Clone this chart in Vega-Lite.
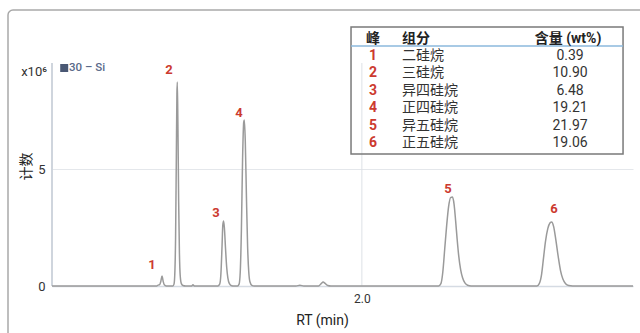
{
  "$schema": "https://vega.github.io/schema/vega-lite/v6.json",
  "width": 581,
  "height": 266,
  "autosize": "none",
  "padding": {"left": 52, "top": 20, "right": 7, "bottom": 47},
  "background": "white",
  "config": {
    "view": {"stroke": null},
    "font": "Roboto, Noto Sans CJK SC",
    "text": {"font": "Roboto, Noto Sans CJK SC"}
  },
  "data": {"values": [{}]},
  "datasets": {
    "trace": [
      {"rt": 1.2, "signal": 0}, {"rt": 1.4, "signal": 0}, {"rt": 1.47, "signal": 0},
      {"rt": 1.474, "signal": 0.04}, {"rt": 1.478, "signal": 0.06}, {"rt": 1.481, "signal": 0.2},
      {"rt": 1.484, "signal": 0.43}, {"rt": 1.487, "signal": 0.2}, {"rt": 1.49, "signal": 0.05},
      {"rt": 1.495, "signal": 0}, {"rt": 1.512, "signal": 0}, {"rt": 1.515, "signal": 0.08},
      {"rt": 1.517, "signal": 0.5}, {"rt": 1.519, "signal": 2.0}, {"rt": 1.521, "signal": 5.5},
      {"rt": 1.5225, "signal": 8.2}, {"rt": 1.5235, "signal": 8.72}, {"rt": 1.525, "signal": 7.0},
      {"rt": 1.527, "signal": 3.6}, {"rt": 1.529, "signal": 1.4}, {"rt": 1.531, "signal": 0.45},
      {"rt": 1.534, "signal": 0.1}, {"rt": 1.538, "signal": 0.02}, {"rt": 1.545, "signal": 0},
      {"rt": 1.56, "signal": 0}, {"rt": 1.564, "signal": 0.05}, {"rt": 1.568, "signal": 0},
      {"rt": 1.628, "signal": 0}, {"rt": 1.633, "signal": 0.08}, {"rt": 1.636, "signal": 0.5},
      {"rt": 1.639, "signal": 1.7}, {"rt": 1.641, "signal": 2.6}, {"rt": 1.643, "signal": 2.78},
      {"rt": 1.645, "signal": 2.5}, {"rt": 1.648, "signal": 1.6}, {"rt": 1.651, "signal": 0.8},
      {"rt": 1.654, "signal": 0.35}, {"rt": 1.658, "signal": 0.1}, {"rt": 1.664, "signal": 0.01},
      {"rt": 1.67, "signal": 0}, {"rt": 1.679, "signal": 0}, {"rt": 1.683, "signal": 0.08},
      {"rt": 1.686, "signal": 0.6}, {"rt": 1.689, "signal": 2.4}, {"rt": 1.692, "signal": 5.4},
      {"rt": 1.695, "signal": 7.0}, {"rt": 1.6965, "signal": 7.09}, {"rt": 1.699, "signal": 6.2},
      {"rt": 1.702, "signal": 3.8}, {"rt": 1.705, "signal": 1.7}, {"rt": 1.708, "signal": 0.6},
      {"rt": 1.711, "signal": 0.18}, {"rt": 1.716, "signal": 0.03}, {"rt": 1.722, "signal": 0},
      {"rt": 1.83, "signal": 0}, {"rt": 1.84, "signal": 0.03}, {"rt": 1.85, "signal": 0},
      {"rt": 1.888, "signal": 0}, {"rt": 1.895, "signal": 0.1}, {"rt": 1.9, "signal": 0.17},
      {"rt": 1.905, "signal": 0.11}, {"rt": 1.912, "signal": 0.02}, {"rt": 1.92, "signal": 0},
      {"rt": 2.198, "signal": 0}, {"rt": 2.204, "signal": 0.1}, {"rt": 2.209, "signal": 0.6},
      {"rt": 2.214, "signal": 1.6}, {"rt": 2.219, "signal": 2.6}, {"rt": 2.224, "signal": 3.4},
      {"rt": 2.229, "signal": 3.78}, {"rt": 2.234, "signal": 3.8}, {"rt": 2.238, "signal": 3.5},
      {"rt": 2.242, "signal": 2.8}, {"rt": 2.246, "signal": 2.0}, {"rt": 2.25, "signal": 1.3},
      {"rt": 2.255, "signal": 0.7}, {"rt": 2.26, "signal": 0.35}, {"rt": 2.266, "signal": 0.13},
      {"rt": 2.273, "signal": 0.03}, {"rt": 2.282, "signal": 0}, {"rt": 2.452, "signal": 0},
      {"rt": 2.458, "signal": 0.1}, {"rt": 2.464, "signal": 0.5}, {"rt": 2.469, "signal": 1.2},
      {"rt": 2.474, "signal": 1.9}, {"rt": 2.48, "signal": 2.45}, {"rt": 2.486, "signal": 2.7},
      {"rt": 2.49, "signal": 2.74}, {"rt": 2.495, "signal": 2.55}, {"rt": 2.501, "signal": 1.95},
      {"rt": 2.507, "signal": 1.25}, {"rt": 2.513, "signal": 0.65}, {"rt": 2.519, "signal": 0.3},
      {"rt": 2.526, "signal": 0.1}, {"rt": 2.534, "signal": 0.02}, {"rt": 2.544, "signal": 0},
      {"rt": 2.7, "signal": 0}
    ],
    "peakLabels": [
      {"peak": 1, "rt": 1.4582, "signal": 0.9},
      {"peak": 2, "rt": 1.5021, "signal": 9.23},
      {"peak": 3, "rt": 1.6234, "signal": 3.12},
      {"peak": 4, "rt": 1.6828, "signal": 7.39},
      {"peak": 5, "rt": 2.2225, "signal": 4.15},
      {"peak": 6, "rt": 2.4962, "signal": 3.29}
    ],
    "components": [
      {"peak": 1, "name": "二硅烷", "wt": 0.39},
      {"peak": 2, "name": "三硅烷", "wt": 10.90},
      {"peak": 3, "name": "异四硅烷", "wt": 6.48},
      {"peak": 4, "name": "正四硅烷", "wt": 19.21},
      {"peak": 5, "name": "异五硅烷", "wt": 21.97},
      {"peak": 6, "name": "正五硅烷", "wt": 19.06}
    ]
  },
  "layer": [
    {
      "layer": [
        {
          "mark": {"type": "rect", "fill": null, "stroke": "#a9a9a9", "strokeWidth": 1.5, "cornerRadius": 5, "clip": false},
          "encoding": {
            "x": {"datum": 1.0864}, "x2": {"datum": 2.76},
            "y": {"datum": 11.795}, "y2": {"datum": -2.7}
          }
        },
        {
          "mark": {"type": "rule", "stroke": "#dde1e6", "strokeWidth": 1},
          "encoding": {
            "x": {"datum": 2.0},
            "y": {"datum": 0}, "y2": {"datum": 9.53}
          }
        },
        {
          "mark": {"type": "rule", "stroke": "#cfd5dd", "strokeWidth": 2},
          "encoding": {
            "x": {"datum": 1.2},
            "y": {"datum": 0}, "y2": {"datum": 9.53}
          }
        },
        {
          "data": {"name": "trace"},
          "mark": {"type": "line", "stroke": "#9a9a9a", "strokeWidth": 1.5, "interpolate": "monotone"},
          "encoding": {
            "x": {
              "field": "rt", "type": "quantitative",
              "scale": {"domain": [1.2, 2.7], "nice": false, "zero": false},
              "axis": {
                "title": "RT (min)", "values": [2.0], "format": ".1f",
                "grid": false, "ticks": false,
                "domainColor": "#d5dbe3", "domainWidth": 1.5,
                "labelFontSize": 12, "labelColor": "#333", "labelPadding": 7,
                "titleFontSize": 14, "titleFontWeight": "normal", "titleColor": "#222",
                "titleX": 270, "titleY": 34, "titleBaseline": "middle", "titleAlign": "center"
              }
            },
            "y": {
              "field": "signal", "type": "quantitative",
              "scale": {"domain": [0, 11.368], "nice": false},
              "axis": {
                "title": "计数", "values": [0, 5],
                "grid": true, "gridColor": "#e4e7eb", "gridWidth": 1,
                "domain": false, "ticks": false,
                "labelFontSize": 13, "labelColor": "#333", "labelPadding": 7,
                "titleFontSize": 14, "titleFontWeight": "normal", "titleColor": "#222",
                "titleX": -26, "titleY": 146, "titleBaseline": "middle", "titleAlign": "center"
              }
            }
          }
        },
        {
          "data": {"name": "peakLabels"},
          "mark": {"type": "text", "color": "#cc3a2f", "fontWeight": "bold", "fontSize": 13, "baseline": "middle", "align": "center"},
          "encoding": {
            "x": {"field": "rt", "type": "quantitative"},
            "y": {"field": "signal", "type": "quantitative"},
            "text": {"field": "peak", "type": "nominal"}
          }
        },
        {
          "mark": {"type": "point", "shape": "square", "filled": true, "size": 64, "color": "#4a5874", "opacity": 1},
          "encoding": {"x": {"datum": 1.2315}, "y": {"datum": 9.316}}
        },
        {
          "mark": {"type": "text", "text": "30 – Si", "color": "#5a6a8a", "fontSize": 11.5, "fontWeight": 500, "align": "left", "baseline": "middle", "dx": 17},
          "encoding": {"x": {"datum": 1.2}, "y": {"datum": 9.316}}
        },
        {
          "mark": {"type": "text", "text": "x10⁶", "color": "#333", "fontSize": 13, "align": "right", "baseline": "middle", "dx": -5},
          "encoding": {"x": {"datum": 1.2}, "y": {"datum": 9.15}}
        }
      ]
    },
    {
      "layer": [
        {
          "mark": {"type": "rect", "fill": null, "stroke": "#7a7a7a", "strokeWidth": 1.5},
          "encoding": {
            "x": {"datum": 1.972}, "x2": {"datum": 2.6743},
            "y": {"datum": -0.662, "scale": {"domain": [-1.063, 14.18], "reverse": true, "nice": false, "zero": false}, "axis": null},
            "y2": {"datum": 6.616}
          }
        },
        {
          "mark": {"type": "rule", "stroke": "#8bb8dc", "strokeWidth": 1.5},
          "encoding": {
            "x": {"datum": 1.972}, "x2": {"datum": 2.6743},
            "y": {"datum": 0.427, "axis": null}
          }
        },
        {
          "mark": {"type": "text", "text": "峰", "fontWeight": "bold", "fontSize": 14, "color": "#222", "align": "center", "baseline": "middle"},
          "encoding": {"x": {"datum": 2.0288}, "y": {"datum": 0, "axis": null}}
        },
        {
          "mark": {"type": "text", "text": "组分", "fontWeight": "bold", "fontSize": 14, "color": "#222", "align": "left", "baseline": "middle"},
          "encoding": {"x": {"datum": 2.1037}, "y": {"datum": 0, "axis": null}}
        },
        {
          "mark": {"type": "text", "text": "含量 (wt%)", "fontWeight": "bold", "fontSize": 14, "color": "#222", "align": "center", "baseline": "middle"},
          "encoding": {"x": {"datum": 2.5323}, "y": {"datum": 0, "axis": null}}
        },
        {
          "data": {"name": "components"},
          "mark": {"type": "text", "fontWeight": "bold", "fontSize": 14, "color": "#cc3a2f", "align": "center", "baseline": "middle"},
          "encoding": {
            "x": {"datum": 2.0288},
            "y": {"field": "peak", "type": "quantitative", "axis": null},
            "text": {"field": "peak", "type": "nominal"}
          }
        },
        {
          "data": {"name": "components"},
          "mark": {"type": "text", "fontSize": 14, "color": "#333", "align": "left", "baseline": "middle"},
          "encoding": {
            "x": {"datum": 2.1037},
            "y": {"field": "peak", "type": "quantitative", "axis": null},
            "text": {"field": "name", "type": "nominal"}
          }
        },
        {
          "data": {"name": "components"},
          "mark": {"type": "text", "fontSize": 14, "color": "#333", "align": "center", "baseline": "middle"},
          "encoding": {
            "x": {"datum": 2.5375},
            "y": {"field": "peak", "type": "quantitative", "axis": null},
            "text": {"field": "wt", "type": "quantitative", "format": ".2f"}
          }
        }
      ]
    }
  ],
  "resolve": {"scale": {"y": "independent"}}
}
